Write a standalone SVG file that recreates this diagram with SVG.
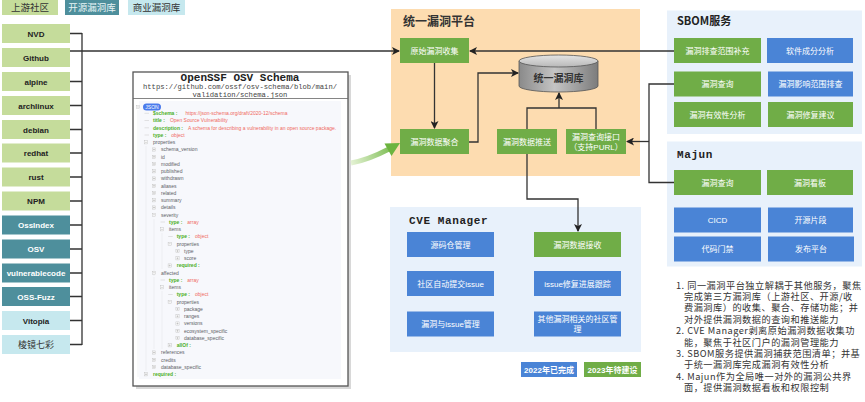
<svg xmlns="http://www.w3.org/2000/svg" xmlns:xlink="http://www.w3.org/1999/xlink" width="865" height="402" viewBox="0 0 865 402">
<style>
.cjk{font-family:"Noto Sans CJK SC","Noto Sans",sans-serif}
.src{font-family:"Liberation Sans",Arial,sans-serif;font-weight:bold;font-size:8px;text-anchor:middle}
.lg{fill:#c5dc9b}.tl{fill:#4e8f9c}.lc{fill:#c6e8ee}
.g{fill:#70ad47}.b{fill:#4a84d6}
.bt{font-family:"Noto Sans CJK SC",sans-serif;font-size:8px;fill:#fff;text-anchor:middle}
.bte{font-family:"Liberation Sans",Arial,"Noto Sans CJK SC",sans-serif;font-size:8px;fill:#fff;text-anchor:middle}
.ln{fill:none;stroke:#333;stroke-width:1.3}
.mono{font-family:"Liberation Mono","DejaVu Sans Mono",monospace}
.tr{font-family:"Liberation Sans",Arial,sans-serif;font-size:5px}
.k{fill:#4caf1f;font-weight:bold}.v{fill:#f06a5e}.p{fill:#606266}
.ic{fill:#fff;stroke:#b8b8b8;stroke-width:0.4}
.gd{stroke:#e2e4ea;stroke-width:0.5}
.note{font-family:"Noto Sans CJK SC","Noto Sans",sans-serif;font-size:9.2px;fill:#333;letter-spacing:0.5px}
</style>
<defs>
<marker id="ah" markerWidth="8" markerHeight="8" refX="7" refY="4" orient="auto" markerUnits="userSpaceOnUse">
<path d="M0,0 L8,4 L0,8 L2,4 Z" fill="#222"/>
</marker>
<linearGradient id="cyl" x1="0" y1="0" x2="1" y2="0">
<stop offset="0" stop-color="#8a8a8a"/><stop offset="0.45" stop-color="#c4c4c4"/><stop offset="1" stop-color="#7c7c7c"/>
</linearGradient>
<linearGradient id="cyltop" x1="0" y1="0" x2="0" y2="1">
<stop offset="0" stop-color="#e4e4e4"/><stop offset="1" stop-color="#b8b8b8"/>
</linearGradient>
<linearGradient id="garr" gradientUnits="userSpaceOnUse" x1="350" y1="162" x2="398" y2="145">
<stop offset="0" stop-color="#e6f3d6"/><stop offset="1" stop-color="#6cb43f"/>
</linearGradient>
<g id="ip"><rect class="ic" x="-1.6" y="-1.6" width="3.2" height="3.2"/><path d="M-1,0H1M0,-1V1" stroke="#999" stroke-width="0.4"/></g>
<g id="im"><rect class="ic" x="-1.6" y="-1.6" width="3.2" height="3.2"/><path d="M-1,0H1" stroke="#999" stroke-width="0.4"/></g>
<path id="dash" d="M-1.5,0H3" stroke="#c8c8c8" stroke-width="0.5"/>
</defs>
<rect width="865" height="402" fill="#fff"/>

<!-- legend -->
<g id="legend-upstream"><rect class="lg" x="2" y="0" width="56" height="15"/><text class="cjk" x="30" y="11" font-size="9.5" text-anchor="middle" fill="#333">上游社区</text></g>
<g id="legend-open"><rect class="tl" x="65" y="0" width="54" height="15"/><text class="cjk" x="92" y="11" font-size="9.5" text-anchor="middle" fill="#e8f4f6">开源漏洞库</text></g>
<g id="legend-commercial"><rect class="lc" x="128" y="0" width="57" height="15"/><text class="cjk" x="156.5" y="11" font-size="9.5" text-anchor="middle" fill="#333">商业漏洞库</text></g>

<!-- sources -->
<g id="src-nvd"><rect class="lg" x="2" y="24" width="68" height="19"/><text class="src" x="36" y="36.5" fill="#222">NVD</text></g>
<g id="src-github"><rect class="lg" x="2" y="48" width="68" height="19"/><text class="src" x="36" y="60.5" fill="#222">Github</text></g>
<g id="src-alpine"><rect class="lg" x="2" y="72" width="68" height="19"/><text class="src" x="36" y="84.5" fill="#222">alpine</text></g>
<g id="src-archlinux"><rect class="lg" x="2" y="96" width="68" height="19"/><text class="src" x="36" y="108.5" fill="#222">archlinux</text></g>
<g id="src-debian"><rect class="lg" x="2" y="120" width="68" height="19"/><text class="src" x="36" y="132.5" fill="#222">debian</text></g>
<g id="src-redhat"><rect class="lg" x="2" y="143.5" width="68" height="19"/><text class="src" x="36" y="156" fill="#222">redhat</text></g>
<g id="src-rust"><rect class="lg" x="2" y="167.5" width="68" height="19"/><text class="src" x="36" y="180" fill="#222">rust</text></g>
<g id="src-npm"><rect class="lg" x="2" y="191.5" width="68" height="19"/><text class="src" x="36" y="204" fill="#222">NPM</text></g>
<g id="src-ossindex"><rect class="tl" x="2" y="215.5" width="68" height="19"/><text class="src" x="36" y="228" fill="#fff">OssIndex</text></g>
<g id="src-osv"><rect class="tl" x="2" y="239.5" width="68" height="19"/><text class="src" x="36" y="252" fill="#fff">OSV</text></g>
<g id="src-vulnerablecode"><rect class="tl" x="2" y="263.5" width="68" height="19"/><text class="src" x="36" y="276" fill="#fff">vulnerablecode</text></g>
<g id="src-ossfuzz"><rect class="tl" x="2" y="287" width="68" height="19"/><text class="src" x="36" y="299.5" fill="#fff">OSS-Fuzz</text></g>
<g id="src-vitopia"><rect class="lc" x="2" y="311" width="68" height="19"/><text class="src" x="36" y="323.5" fill="#222">Vitopia</text></g>
<g id="src-lingjing"><rect class="lc" x="2" y="335" width="68" height="19"/><text class="cjk" x="36" y="347.8" font-size="9" text-anchor="middle" fill="#333">棱镜七彩</text></g>

<!-- schema -->
<g id="schema">
<rect x="136" y="75" width="215" height="314" fill="#d8d8d8"/>
<rect x="133" y="72" width="215" height="314" fill="#fff" stroke="#555" stroke-width="1.3"/>
<text class="mono" x="240" y="80.5" font-size="11" font-weight="bold" text-anchor="middle" fill="#222">OpenSSF OSV Schema</text>
<text class="mono" x="240" y="88.5" font-size="7.2" text-anchor="middle" fill="#444">https://github.com/ossf/osv-schema/blob/main/</text>
<text class="mono" x="240" y="96.5" font-size="7.2" text-anchor="middle" fill="#444">validation/schema.json</text>
<line x1="133" y1="98.5" x2="348" y2="98.5" stroke="#666" stroke-width="0.8"/>
<rect x="139" y="101" width="202" height="278" fill="#f7f8fc"/>
<line class="gd" x1="138" y1="110" x2="138" y2="377"/>
<line class="gd" x1="146" y1="146" x2="146" y2="371"/>
<line class="gd" x1="154" y1="219" x2="154" y2="276"/>
<line class="gd" x1="154" y1="277" x2="154" y2="349"/>
<line class="gd" x1="162" y1="233" x2="162" y2="269"/>
<line class="gd" x1="162" y1="291" x2="162" y2="349"/>
<use href="#im" x="138" y="107"/>
<rect x="143" y="103.5" width="18" height="7" rx="3.5" fill="#4b7bec"/>
<text class="tr" x="152" y="108.8" text-anchor="middle" fill="#fff" font-size="4.5">JSON</text>
<g class="tr">
<use href="#dash" x="146" y="113.3"/><text x="153" y="115.1"><tspan class="k">$schema :</tspan><tspan class="v" dx="8">https://json-schema.org/draft/2020-12/schema</tspan></text>
<use href="#dash" x="146" y="120.5"/><text x="153" y="122.3"><tspan class="k">title :</tspan><tspan class="v" dx="5">Open Source Vulnerability</tspan></text>
<use href="#dash" x="146" y="127.8"/><text x="153" y="129.6"><tspan class="k">description :</tspan><tspan class="v" dx="5">A schema for describing a vulnerability in an open source package.</tspan></text>
<use href="#dash" x="146" y="135"/><text x="153" y="136.8"><tspan class="k">type :</tspan><tspan class="v" dx="5">object</tspan></text>
<use href="#im" x="146" y="142.3"/><text class="p" x="153" y="144.1">properties</text>
<use href="#ip" x="154" y="149.5"/><text class="p" x="161" y="151.3">schema_version</text>
<use href="#ip" x="154" y="156.8"/><text class="p" x="161" y="158.6">id</text>
<use href="#ip" x="154" y="164"/><text class="p" x="161" y="165.8">modified</text>
<use href="#ip" x="154" y="171.3"/><text class="p" x="161" y="173.1">published</text>
<use href="#ip" x="154" y="178.5"/><text class="p" x="161" y="180.3">withdrawn</text>
<use href="#ip" x="154" y="185.8"/><text class="p" x="161" y="187.6">aliases</text>
<use href="#ip" x="154" y="193"/><text class="p" x="161" y="194.8">related</text>
<use href="#ip" x="154" y="200.3"/><text class="p" x="161" y="202.1">summary</text>
<use href="#ip" x="154" y="207.5"/><text class="p" x="161" y="209.3">details</text>
<use href="#im" x="154" y="214.8"/><text class="p" x="161" y="216.6">severity</text>
<use href="#dash" x="162" y="222"/><text x="169" y="223.8"><tspan class="k">type :</tspan><tspan class="v" dx="5">array</tspan></text>
<use href="#im" x="162" y="229.3"/><text class="p" x="169" y="231.1">items</text>
<use href="#dash" x="169.7" y="236.5"/><text x="176.7" y="238.3"><tspan class="k">type :</tspan><tspan class="v" dx="5">object</tspan></text>
<use href="#im" x="169.7" y="243.8"/><text class="p" x="176.7" y="245.6">properties</text>
<use href="#ip" x="177.5" y="251"/><text class="p" x="184" y="252.8">type</text>
<use href="#ip" x="177.5" y="258.3"/><text class="p" x="184" y="260.1">score</text>
<use href="#ip" x="169.7" y="265.5"/><text class="k" x="176.7" y="267.3">required :</text>
<use href="#im" x="154" y="272.8"/><text class="p" x="161" y="274.6">affected</text>
<use href="#dash" x="162" y="280"/><text x="169" y="281.8"><tspan class="k">type :</tspan><tspan class="v" dx="5">array</tspan></text>
<use href="#im" x="162" y="287.3"/><text class="p" x="169" y="289.1">items</text>
<use href="#dash" x="169.7" y="294.5"/><text x="176.7" y="296.3"><tspan class="k">type :</tspan><tspan class="v" dx="5">object</tspan></text>
<use href="#im" x="169.7" y="301.8"/><text class="p" x="176.7" y="303.6">properties</text>
<use href="#ip" x="177.5" y="309"/><text class="p" x="184" y="310.8">package</text>
<use href="#ip" x="177.5" y="316.3"/><text class="p" x="184" y="318.1">ranges</text>
<use href="#ip" x="177.5" y="323.5"/><text class="p" x="184" y="325.3">versions</text>
<use href="#ip" x="177.5" y="330.8"/><text class="p" x="184" y="332.6">ecosystem_specific</text>
<use href="#ip" x="177.5" y="338"/><text class="p" x="184" y="339.8">database_specific</text>
<use href="#ip" x="169.7" y="345.3"/><text class="k" x="176.7" y="347.1">allOf :</text>
<use href="#ip" x="154" y="352.5"/><text class="p" x="161" y="354.3">references</text>
<use href="#ip" x="154" y="359.8"/><text class="p" x="161" y="361.6">credits</text>
<use href="#ip" x="154" y="367"/><text class="p" x="161" y="368.8">database_specific</text>
<use href="#ip" x="146" y="374.3"/><text class="k" x="153" y="376.1">required :</text>
</g>
</g>

<!-- platform panel -->
<g id="platform">
<rect x="391" y="9" width="249" height="167" fill="#fddcb0"/>
<text class="cjk" x="403" y="26" font-size="12" font-weight="bold" fill="#333">统一漏洞平台</text>
</g>
<g id="n-collect"><rect class="g" x="400" y="38" width="69" height="25"/><text class="bt" x="434.5" y="53.5">原始漏洞收集</text></g>
<g id="n-aggregate"><rect class="g" x="400" y="129" width="69" height="25"/><text class="bt" x="434.5" y="144.5">漏洞数据聚合</text></g>
<g id="n-push"><rect class="g" x="497" y="129" width="60" height="25"/><text class="bt" x="527" y="144.5">漏洞数据推送</text></g>
<g id="n-query-api"><rect class="g" x="566" y="129" width="60" height="25"/><text class="bt" x="596" y="139.5">漏洞查询接口<tspan class="bte" x="596" y="150">（支持PURL）</tspan></text></g>
<g id="n-db">
<path d="M519,61 V86 A39.5,6 0 0 0 598,86 V61" fill="url(#cyl)" stroke="#555" stroke-width="0.8"/>
<ellipse cx="558.5" cy="61" rx="39.5" ry="6" fill="url(#cyltop)" stroke="#555" stroke-width="0.8"/>
<text class="cjk" x="558.5" y="82" font-size="10" font-weight="bold" text-anchor="middle" fill="#333">统一漏洞库</text>
</g>

<!-- CVE Manager -->
<g id="cve-manager">
<rect x="390" y="207" width="251" height="145" fill="#e8f1fb"/>
<text class="mono" x="409" y="224" font-size="11" font-weight="bold" fill="#222" letter-spacing="0.6">CVE Manager</text>
</g>
<g id="n-repo"><rect class="b" x="407" y="232" width="87" height="25"/><text class="bt" x="450.5" y="247.5">源码仓管理</text></g>
<g id="n-receive"><rect class="g" x="534" y="232" width="87" height="25"/><text class="bt" x="577.5" y="247.5">漏洞数据接收</text></g>
<g id="n-submit"><rect class="b" x="407" y="271" width="87" height="25"/><text class="bte" x="450.5" y="286.5">社区自动提交issue</text></g>
<g id="n-track"><rect class="b" x="534" y="271" width="87" height="25"/><text class="bte" x="577.5" y="286.5">issue修复进展跟踪</text></g>
<g id="n-issue"><rect class="b" x="407" y="311.5" width="87" height="25"/><text class="bte" x="450.5" y="327">漏洞与issue管理</text></g>
<g id="n-other"><rect class="b" x="534" y="311.5" width="87" height="25"/><text class="bt" x="577.5" y="322">其他漏洞相关的社区管<tspan x="577.5" y="332">理</tspan></text></g>
<g id="legend-2022"><rect class="b" x="521" y="362" width="56" height="15"/><text class="bte" x="549" y="372.5" font-weight="bold">2022年已完成</text></g>
<g id="legend-2023"><rect class="g" x="584" y="362" width="57" height="15"/><text class="bte" x="612.5" y="372.5" font-weight="bold">2023年待建设</text></g>

<!-- SBOM -->
<g id="sbom">
<rect x="667" y="10.5" width="195" height="123.5" fill="#e8f1fb"/>
<text class="cjk" x="677" y="25" font-size="11" font-weight="bold" fill="#222">SBOM服务</text>
</g>
<g id="s-scope"><rect class="g" x="674" y="38" width="87" height="25"/><text class="bt" x="717.5" y="53.5">漏洞排查范围补充</text></g>
<g id="s-sca"><rect class="b" x="767" y="38" width="86" height="25"/><text class="bt" x="810" y="53.5">软件成分分析</text></g>
<g id="s-query"><rect class="g" x="674" y="71.5" width="87" height="25"/><text class="bt" x="717.5" y="87">漏洞查询</text></g>
<g id="s-impact"><rect class="b" x="768" y="71.5" width="85" height="25"/><text class="bt" x="810.5" y="87">漏洞影响范围排查</text></g>
<g id="s-valid"><rect class="g" x="674" y="102" width="87" height="25"/><text class="bt" x="717.5" y="117.5">漏洞有效性分析</text></g>
<g id="s-fix"><rect class="g" x="768" y="102" width="85" height="25"/><text class="bt" x="810.5" y="117.5">漏洞修复建议</text></g>

<!-- Majun -->
<g id="majun">
<rect x="667" y="141.5" width="195" height="125" fill="#e8f1fb"/>
<text class="mono" x="677" y="158" font-size="11" font-weight="bold" fill="#222" letter-spacing="0.6">Majun</text>
</g>
<g id="m-query"><rect class="g" x="674" y="170" width="87" height="25"/><text class="bt" x="717.5" y="185.5">漏洞查询</text></g>
<g id="m-board"><rect class="g" x="767" y="170" width="86" height="25"/><text class="bt" x="810" y="185.5">漏洞看板</text></g>
<g id="m-cicd"><rect class="b" x="674" y="207.5" width="87" height="25"/><text class="bte" x="717.5" y="223">CICD</text></g>
<g id="m-snippet"><rect class="b" x="768" y="207.5" width="85" height="25"/><text class="bt" x="810.5" y="223">开源片段</text></g>
<g id="m-gate"><rect class="b" x="674" y="236.5" width="87" height="25"/><text class="bt" x="717.5" y="252">代码门禁</text></g>
<g id="m-release"><rect class="b" x="768" y="236.5" width="86" height="25"/><text class="bt" x="811" y="252">发布平台</text></g>

<!-- notes -->
<g id="notes">
<text class="note" x="676" y="288.5">1. 同一漏洞平台独立解耦于其他服务，聚焦<tspan x="684" y="299.9">完成第三方漏洞库（上游社区、开源/收</tspan><tspan x="684" y="311.3">费漏洞库）的收集、聚合、存储功能；并</tspan><tspan x="684" y="322.7">对外提供漏洞数据的查询和推送能力</tspan><tspan x="676" y="334.1">2. CVE Manager剥离原始漏洞数据收集功</tspan><tspan x="684" y="345.5">能，聚焦于社区门户的漏洞管理能力</tspan><tspan x="676" y="356.9">3. SBOM服务提供漏洞捕获范围清单；并基</tspan><tspan x="684" y="368.3">于统一漏洞库完成漏洞有效性分析</tspan><tspan x="676" y="379.7">4. Majun作为全局唯一对外的漏洞公共界</tspan><tspan x="684" y="391.1">面，提供漏洞数据看板和权限控制</tspan></text>
</g>

<!-- connectors -->
<g id="connectors">
<path class="ln" d="M70,33.5H82 M70,81.5H82 M70,105.5H82 M70,129.5H82 M70,153H82 M70,177H82 M70,201H82 M70,225H82 M70,249H82 M70,273H82 M70,296.5H82 M70,320.5H82 M70,344.5H82 M82,33H82V345"/>
<path class="ln" d="M70,51H399" marker-end="url(#ah)"/>
<path class="ln" d="M674,51H470" marker-end="url(#ah)"/>
<path class="ln" d="M434.5,63V128" marker-end="url(#ah)"/>
<path class="ln" d="M469,142H478V73H518" marker-end="url(#ah)"/>
<path class="ln" d="M527,129V108H596V129"/>
<path class="ln" d="M559,108V93" marker-end="url(#ah)"/>
<path class="ln" d="M527,154V199H578V231" marker-end="url(#ah)"/>
<path class="ln" d="M674,84H649V182.5H674"/>
<path class="ln" d="M649,141.5H627" marker-end="url(#ah)"/>
<path d="M351,163 Q368,160 389,149" fill="none" stroke="url(#garr)" stroke-width="5"/>
<polygon points="400,143 391.5,156 384.5,143.5" fill="#6cb43f"/>
</g>
</svg>
